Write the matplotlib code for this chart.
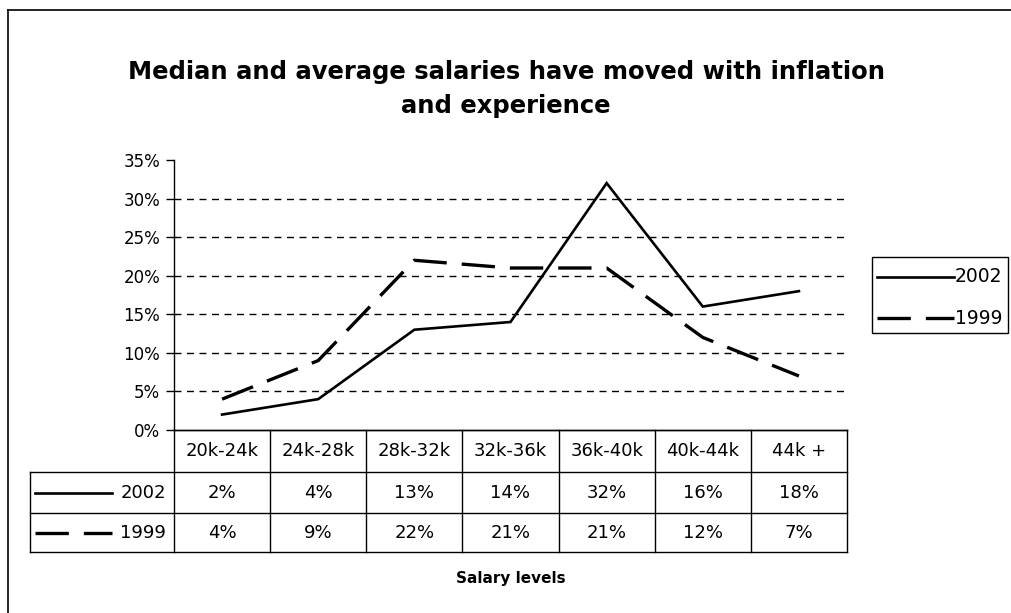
import numpy as np
import matplotlib
matplotlib.use("Agg")
import matplotlib.pyplot as plt
from matplotlib.lines import Line2D
from matplotlib.patches import Rectangle

plt.rcParams['font.family'] = ['DejaVu Sans']

# data
categories = ["20k-24k", "24k-28k", "28k-32k", "32k-36k", "36k-40k", "40k-44k", "44k +"]
vals_2002 = [2, 4, 13, 14, 32, 16, 18]
vals_1999 = [4, 9, 22, 21, 21, 12, 7]
series_names = ["2002", "1999"]
y_ticks = [0, 5, 10, 15, 20, 25, 30, 35]

W, H = 1011, 613
fig = plt.figure(figsize=(W / 100, H / 100), dpi=100)

def fx(px):
    return px / W

def fy(py):
    return 1 - py / H

# outer frame (top + left)
fig.add_artist(Line2D([fx(8), fx(1011)], [fy(10), fy(10)], color='black', lw=1.2))
fig.add_artist(Line2D([fx(8), fx(8)], [fy(10), fy(613)], color='black', lw=1.2))

fig.text(fx(506), fy(72), "Median and average salaries have moved with inflation",
         ha='center', va='center', fontsize=17.5, fontweight='bold')
fig.text(fx(506), fy(106), "and experience",
         ha='center', va='center', fontsize=17.5, fontweight='bold')

ax_l, ax_r, ax_t, ax_b = 174, 847, 160, 430
ax = fig.add_axes([fx(ax_l), fy(ax_b), fx(ax_r - ax_l), (ax_b - ax_t) / H])
x = np.arange(len(categories))
solid_style = dict(color='black', lw=1.9, solid_joinstyle='miter')
dash_style = dict(color='black', lw=2.4, dashes=(10, 4.5))
ax.plot(x, vals_2002, **solid_style)
ax.plot(x, vals_1999, **dash_style)
ax.set_xlim(-0.5, len(categories) - 0.5)
ax.set_ylim(0, 35)
ax.set_yticks(y_ticks)
ax.set_yticklabels([f"{t}%" for t in y_ticks], fontsize=12)
ax.set_xticks([])
for t in y_ticks[1:-1]:
    ax.axhline(t, color='black', lw=1, dashes=(5, 4), zorder=0)
for s in ['top', 'right']:
    ax.spines[s].set_visible(False)
ax.spines['left'].set_linewidth(1)
ax.spines['bottom'].set_linewidth(1)
ax.tick_params(axis='y', direction='out', length=6, width=1, pad=4)

# overlay axes in pixel coords for table and legend
tax = fig.add_axes([0, 0, 1, 1])
tax.set_xlim(0, W)
tax.set_ylim(H, 0)
tax.axis('off')
lk = dict(color='black', lw=1)

# legend at right
tax.add_patch(Rectangle((872, 257), 136, 76, fill=False, edgecolor='black', lw=1))
for name, cy, style in zip(series_names, [277, 318], [solid_style, dash_style]):
    tax.plot([877, 954], [cy, cy], **style)
    tax.text(955, cy, name, ha='left', va='center', fontsize=13.5)

# data table below the axis
col_w = (ax_r - ax_l) / len(categories)
lab_l = 30
tab_top, row1, row2, tab_bot = 430, 472, 513, 552
edges = [ax_l + i * col_w for i in range(len(categories) + 1)]
for e in edges:
    tax.plot([e, e], [tab_top, tab_bot], **lk)
tax.plot([lab_l, lab_l], [row1, tab_bot], **lk)
tax.plot([ax_l, ax_r], [tab_top, tab_top], **lk)
for yy in (row1, row2, tab_bot):
    tax.plot([lab_l, ax_r], [yy, yy], **lk)

for i, c in enumerate(categories):
    cx = ax_l + (i + 0.5) * col_w
    tax.text(cx, (tab_top + row1) / 2, c, ha='center', va='center', fontsize=13)
    tax.text(cx, (row1 + row2) / 2, f"{vals_2002[i]}%", ha='center', va='center', fontsize=13)
    tax.text(cx, (row2 + tab_bot) / 2, f"{vals_1999[i]}%", ha='center', va='center', fontsize=13)

for name, (top, bot), style in zip(series_names, [(row1, row2), (row2, tab_bot)],
                                   [solid_style, dash_style]):
    cy = (top + bot) / 2
    tax.plot([35, 112], [cy, cy], **style)
    tax.text(166, cy, name, ha='right', va='center', fontsize=13)

fig.text(fx((ax_l + ax_r) / 2), fy(579), "Salary levels", ha='center', va='center',
         fontsize=11, fontweight='bold')

fig.savefig("out.png", dpi=100)
